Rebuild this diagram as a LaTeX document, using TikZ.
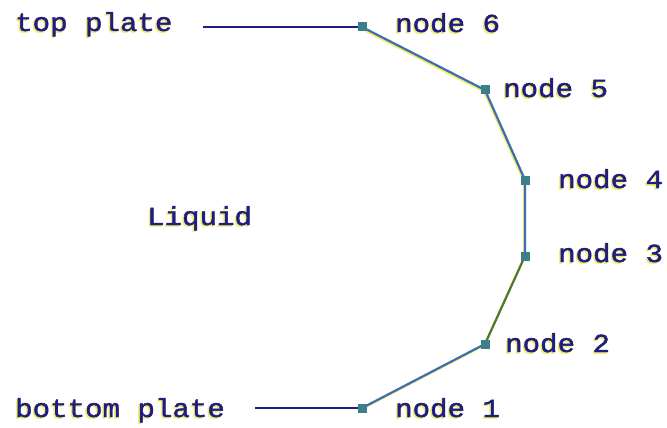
\documentclass[tikz,border=0pt]{standalone}
\usepackage{fontspec}
\newfontfamily\plotfont[FakeStretch=1.12,FakeBold=1.6]{Liberation Mono}
\definecolor{ink}{HTML}{1E1E80}
\definecolor{shade}{HTML}{F2EA6A}
\definecolor{seg}{HTML}{3A6EB0}
\definecolor{segg}{HTML}{4A7A30}
\definecolor{mark}{HTML}{3C7E8A}
\tikzset{
  lbl/.style={font=\plotfont\fontsize{26}{26}\selectfont, text=ink, anchor=base west, inner sep=0pt},
  lblsh/.style={font=\plotfont\fontsize{26}{26}\selectfont, text=shade, anchor=base west, inner sep=0pt},
  plateline/.style={draw=ink, line width=1.8pt},
  segline/.style={draw=seg, line width=2.2pt},
  seglineg/.style={draw=segg, line width=2.2pt},
  shline/.style={draw=shade, line width=2pt},
  pt/.style={fill=mark, minimum size=9pt, inner sep=0pt, rectangle}
}
\begin{document}
\begin{tikzpicture}[x=1pt,y=-1pt]
\useasboundingbox (0,0) rectangle (667,428);
% points
\coordinate (c1) at (362,408);
\coordinate (c2) at (485,344);
\coordinate (c3) at (525,256);
\coordinate (c4) at (525,180);
\coordinate (c5) at (485,90);
\coordinate (c6) at (362,27);
% text shadows
\foreach \x/\y/\t in {15/31/top plate, 15/417/bottom plate, 147/225/Liquid, 395/32/node  6, 503/97/node  5, 558/188/node  4, 558/262/node  3, 505/352/node  2, 395/417/node  1}
  \node[lblsh] at (\x-1.5,\y+1.5) {\t};
% labels
\node[lbl] (tp) at (15,31) {top plate};
\node[lbl] (bp) at (15,417) {bottom plate};
\node[lbl] (liq) at (147,225) {Liquid};
\node[lbl] (l6) at (395,32) {node  6};
\node[lbl] (l5) at (503,97) {node  5};
\node[lbl] (l4) at (558,188) {node  4};
\node[lbl] (l3) at (558,262) {node  3};
\node[lbl] (l2) at (505,352) {node  2};
\node[lbl] (l1) at (395,417) {node  1};
% line shadows
\draw[shline] ([shift={(-1,1.5)}]c1) -- ([shift={(-1,1.5)}]c2) -- ([shift={(-1,1.5)}]c3) -- ([shift={(-1,1.5)}]c4) -- ([shift={(-1,1.5)}]c5) -- ([shift={(-1,1.5)}]c6);
% plate lines
\draw[plateline, shorten >=30pt] (c6) -- (c6 -| tp.east);
\draw[plateline, shorten >=30pt] (c1) -- (c1 -| bp.east);
% segments
\draw[segline] (c1) -- (c2);
\draw[seglineg] (c2) -- (c3);
\draw[segline] (c3) -- (c4) -- (c5) -- (c6);
% markers
\node[pt] (n1) at (c1) {};
\node[pt] (n2) at (c2) {};
\node[pt] (n3) at (c3) {};
\node[pt] (n4) at (c4) {};
\node[pt] (n5) at (c5) {};
\node[pt] (n6) at (c6) {};
\end{tikzpicture}
\end{document}
